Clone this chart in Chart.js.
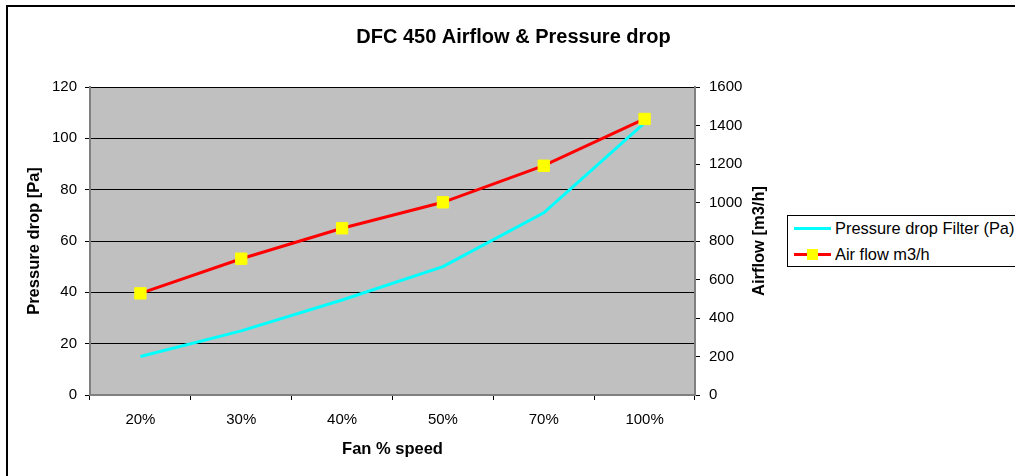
<!DOCTYPE html>
<html>
<head>
<meta charset="utf-8">
<script src="https://cdn.jsdelivr.net/npm/chart.js@4/dist/chart.umd.min.js"></script>
<style>
  html, body { margin: 0; padding: 0; background: #fff; }
  #wrap { position: relative; width: 1015px; height: 476px; overflow: hidden; }
  #frame { position: absolute; left: 6px; top: 5px; width: 1100px; height: 600px;
           border-top: 2px solid #000; border-left: 2px solid #000; pointer-events: none; }
  #legend { position: absolute; left: 787px; top: 215px; width: 260px; height: 50px;
            border: 1px solid #000; background: #fff;
            font-family: "Liberation Sans", Arial, sans-serif; font-size: 16.4px; color: #000; }
  .row { position: absolute; left: 0; height: 20px; line-height: 20px; white-space: nowrap; }
  .mark { position: absolute; left: 6px; top: 9px; width: 37px; height: 3px; }
  .sq { position: absolute; left: 13px; top: -4px; width: 11px; height: 11px; background: #ffff00; }
  .txt { position: absolute; left: 47px; top: 0; }
</style>
</head>
<body>
<div id="wrap">
  <canvas id="airflowChart" width="1015" height="476"></canvas>
  <div id="frame"></div>
  <div id="legend">
    <div class="row" style="top:2px"><div class="mark" style="background:#00ffff"></div><span class="txt">Pressure drop Filter (Pa)</span></div>
    <div class="row" style="top:28px"><div class="mark" style="background:#ff0000"><div class="sq"></div></div><span class="txt">Air flow m3/h</span></div>
  </div>
</div>
<script>
// values
const categories = ['20%', '30%', '40%', '50%', '70%', '100%'];
const pressureDrop = [15, 25, 37, 50, 71, 106];   // Pa, left axis
const airFlow = [528, 708, 866, 1001, 1191, 1434]; // m3/h, right axis

Chart.defaults.font.family = '"Liberation Sans", Arial, sans-serif';
Chart.defaults.color = '#000';

const titleFont = { size: 16.5, weight: 'bold' };

// grey plot background like the spreadsheet chart
const plotBackground = {
    id: 'plotBackground',
    beforeDraw(chart) {
        const { ctx, chartArea } = chart;
        ctx.save();
        ctx.fillStyle = '#c0c0c0';
        ctx.fillRect(chartArea.left, chartArea.top, chartArea.width, chartArea.height);
        ctx.restore();
    }
};

// right axis title reads bottom-to-top in the original, chart.js rotates it the other way
const rightAxisTitle = {
    id: 'rightAxisTitle',
    afterDraw(chart) {
        const { ctx, chartArea } = chart;
        ctx.save();
        ctx.translate(759, (chartArea.top + chartArea.bottom) / 2);
        ctx.rotate(-Math.PI / 2);
        ctx.font = 'bold 16.5px "Liberation Sans", Arial, sans-serif';
        ctx.fillStyle = '#000';
        ctx.textAlign = 'center';
        ctx.textBaseline = 'middle';
        ctx.fillText('Airflow [m3/h]', 0, 0);
        ctx.restore();
    }
};

const ctx = document.getElementById('airflowChart').getContext('2d');
new Chart(ctx, {
    type: 'line',
    data: {
        labels: categories,
        datasets: [
            {
                label: 'Pressure drop Filter (Pa)',
                data: pressureDrop,
                yAxisID: 'y',
                borderColor: '#00ffff',
                borderWidth: 3,
                pointRadius: 0,
                tension: 0,
                order: 1
            },
            {
                label: 'Air flow m3/h',
                data: airFlow,
                yAxisID: 'y1',
                borderColor: '#ff0000',
                borderWidth: 3,
                pointStyle: 'rect',
                pointRadius: 8,
                pointBackgroundColor: '#ffff00',
                pointBorderColor: '#ffff00',
                pointBorderWidth: 1,
                tension: 0,
                order: 0
            }
        ]
    },
    options: {
        responsive: false,
        animation: false,
        devicePixelRatio: 1,
        layout: { padding: { left: 12, right: 0, top: 0, bottom: 0 } },
        plugins: {
            legend: { display: false },
            tooltip: { enabled: false },
            title: {
                display: true,
                text: 'DFC 450 Airflow & Pressure drop',
                font: { size: 20, weight: 'bold' },
                padding: { top: 25, bottom: 38 }
            }
        },
        scales: {
            x: {
                offset: true,
                grid: { offset: true, drawOnChartArea: false, color: '#000', tickLength: 5 },
                border: { color: '#808080', width: 2 },
                ticks: { font: { size: 15 }, padding: 11, maxRotation: 0 },
                title: { display: true, text: 'Fan % speed', font: titleFont, padding: { top: 0, bottom: 17 } },
                afterFit(scale) { scale.height = 81; }
            },
            y: {
                position: 'left',
                min: 0,
                max: 120,
                ticks: { stepSize: 20, font: { size: 15 }, padding: 8 },
                grid: { color: '#000', tickLength: 5 },
                border: { color: '#808080', width: 2 },
                title: { display: true, text: 'Pressure drop [Pa]', font: titleFont, padding: { top: 13, bottom: 0 } },
                afterFit(scale) { scale.width = 78; }
            },
            y1: {
                position: 'right',
                min: 0,
                max: 1600,
                ticks: { stepSize: 200, font: { size: 15 }, padding: 9, callback: (v) => String(v) },
                grid: { drawOnChartArea: false, color: '#000', tickLength: 5 },
                border: { color: '#808080', width: 2 },
                afterFit(scale) { scale.width = 320; }
            }
        }
    },
    plugins: [plotBackground, rightAxisTitle]
});
</script>
</body>
</html>
